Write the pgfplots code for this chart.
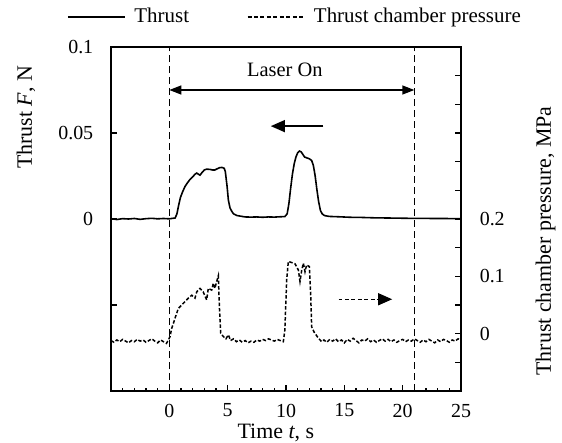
\documentclass[border=0pt]{standalone}
\usepackage{fontspec}
\setmainfont{Liberation Serif}
\usepackage{pgfplots}
\pgfplotsset{compat=1.18}
\usetikzlibrary{arrows.meta}

\pgfplotsset{
  common/.style={
    width=350bp, height=344bp, scale only axis,
    xmin=-5, xmax=25, clip=false,
    tick align=inside,
    axis line style={line width=1.4pt},
    tick style={line width=1.2pt, black},
    major tick length=6pt, minor tick length=3.5pt,
  },
}

\begin{document}
\fontsize{20}{24}\selectfont
\begin{tikzpicture}
\useasboundingbox (-111bp,-52bp) rectangle (451bp,391bp);

% thrust, left axis
\begin{axis}[common,
  ymin=-0.1, ymax=0.1,
  xtick pos=bottom, ytick pos=left,
  xtick={0,5,10,15,20,25}, xticklabels={0,5,10,15,20,25},
  minor xtick={-4,-3,-2,-1,1,2,3,4,6,7,8,9,11,12,13,14,16,17,18,19,21,22,23,24},
  ytick={-0.05,0,0.05,0.1}, yticklabels={,0,0.05,0.1},
  xticklabel style={yshift=-6pt},
  yticklabel style={xshift=-11pt},
  legend style={draw=none, fill=none, inner sep=0pt,
    at={(axis description cs:-0.126,1.087)}, anchor=west,
    font=\fontsize{21}{25}\selectfont,
    nodes={inner sep=0pt},
    /tikz/every odd column/.append style={column sep=9pt},
    /tikz/every even column/.append style={column sep=58pt}},
  legend columns=2,
  legend image code/.code={\draw[#1] (0pt,0pt) -- (57pt,0pt);},
]
\addplot[black, line width=1.6pt] coordinates {
  (-5,0.0002) (-4.5,-0.0003) (-4,0.0002) (-3.5,0.0000) (-3,0.0003) (-2.5,-0.0002)
  (-2,0.0002) (-1.5,0.0004) (-1,0.0001) (-0.5,0.0003) (0,0.0001) (0.5,0.0006)
  (0.65,0.003) (0.8,0.008) (0.95,0.0125) (1.15,0.016) (1.35,0.019) (1.55,0.021)
  (1.77,0.023) (2.0,0.0245) (2.2,0.026) (2.35,0.0267) (2.5,0.026) (2.63,0.0255)
  (2.8,0.027) (3.0,0.0285) (3.2,0.029) (3.5,0.0288) (3.7,0.0285) (3.9,0.0285)
  (4.1,0.0292) (4.3,0.0298) (4.5,0.030) (4.7,0.0295) (4.8,0.0275) (4.95,0.019)
  (5.06,0.011) (5.2,0.0065) (5.35,0.0045) (5.5,0.003) (5.8,0.002) (6.5,0.0012)
  (7,0.0011) (7.5,0.0012) (8,0.001) (8.5,0.0012) (9,0.0011) (9.5,0.0013)
  (9.9,0.0014) (10.1,0.003) (10.25,0.009) (10.4,0.018) (10.55,0.026) (10.7,0.032)
  (10.85,0.036) (11.0,0.0385) (11.15,0.0395) (11.3,0.039) (11.45,0.0375) (11.6,0.036)
  (11.8,0.0355) (12.0,0.035) (12.2,0.034) (12.35,0.031) (12.5,0.025) (12.65,0.017)
  (12.8,0.010) (12.95,0.005) (13.1,0.003) (13.3,0.002) (13.7,0.0015) (14.5,0.0013)
  (15.5,0.001) (16.5,0.0009) (17.5,0.0007) (18.5,0.0006) (19.5,0.0005) (20.5,0.0004)
  (21.5,0.0004) (22.5,0.0003) (23.5,0.0003) (24.5,0.0002) (25,0.0002)
};
\addlegendentry{Thrust}
\addlegendimage{black, line width=1.4pt, dash pattern=on 4pt off 2.5pt}
\addlegendentry{Thrust chamber pressure}

% laser on / off markers
\addplot[black, line width=1.3pt, dash pattern=on 7pt off 4pt, forget plot] coordinates {(0,-0.1) (0,0.1)};
\addplot[black, line width=1.3pt, dash pattern=on 7pt off 4pt, forget plot] coordinates {(21,-0.1) (21,0.1)};
\draw[line width=1.3pt, {Triangle[length=12pt,width=9pt]}-{Triangle[length=12pt,width=9pt]}]
  (axis cs:0,0.075) -- (axis cs:21,0.075);
\node[font=\fontsize{20.5}{24}\selectfont] at (axis cs:9.9,0.087) {Laser On};
\draw[line width=1.3pt, -{Triangle[length=14pt,width=12pt]}]
  (axis cs:13.2,0.054) -- (axis cs:8.7,0.054);

\node[rotate=90, font=\fontsize{22}{26}\selectfont] at (rel axis cs:-0.243,0.795) {Thrust \textit{F}, N};
\node[anchor=base, font=\fontsize{22}{26}\selectfont] at ([yshift=-47bp]rel axis cs:0.471,0) {Time \textit{t}, s};
\end{axis}

% chamber pressure, right axis
\begin{axis}[common,
  ymin=-0.1, ymax=0.5,
  axis x line=none, axis y line*=right,
  ytick={-0.05,0,0.05,0.1,0.15,0.2,0.25,0.3,0.35,0.4,0.45},
  yticklabels={,0,,0.1,,0.2,,,,,},
  yticklabel style={xshift=12pt},
]
\addplot[black, line width=1.5pt, dash pattern=on 3.5pt off 2pt] coordinates {
  (-5,-0.012) (-4.75,-0.015) (-4.5,-0.011) (-4.25,-0.014) (-4,-0.010) (-3.75,-0.013)
  (-3.5,-0.016) (-3.25,-0.012) (-3,-0.014) (-2.75,-0.010) (-2.5,-0.013) (-2.25,-0.011)
  (-2,-0.015) (-1.75,-0.012) (-1.5,-0.009) (-1.25,-0.013) (-1,-0.016) (-0.75,-0.011)
  (-0.5,-0.014) (-0.25,-0.017) (-0.08,-0.011) (0.06,-0.005) (0.2,0.009) (0.49,0.027)
  (0.77,0.044) (1.06,0.050) (1.35,0.056) (1.63,0.062) (1.92,0.067) (2.2,0.062)
  (2.35,0.073) (2.63,0.079) (2.9,0.073) (3.2,0.059) (3.34,0.079) (3.63,0.076)
  (3.77,0.088) (3.9,0.079) (4.06,0.091) (4.2,0.101) (4.29,0.047) (4.4,0.001)
  (4.63,-0.005) (4.85,-0.009) (5.06,-0.002) (5.25,-0.012) (5.5,-0.009) (5.75,-0.014)
  (6,-0.011) (6.25,-0.015) (6.5,-0.012) (6.75,-0.016) (7,-0.013) (7.25,-0.015)
  (7.5,-0.011) (7.75,-0.013) (8,-0.010) (8.25,-0.012) (8.5,-0.009) (8.75,-0.011)
  (9,-0.013) (9.25,-0.010) (9.5,-0.012) (9.77,-0.014) (9.9,0.006) (10.06,0.094)
  (10.2,0.126) (10.49,0.124) (10.77,0.122) (11.06,0.111) (11.2,0.091) (11.35,0.111)
  (11.49,0.123) (11.63,0.108) (11.77,0.120) (12.0,0.117) (12.12,0.065) (12.2,0.012)
  (12.4,0.003) (12.78,-0.008) (13.06,-0.014) (13.25,-0.011) (13.5,-0.015) (13.75,-0.010)
  (14,-0.013) (14.25,-0.009) (14.5,-0.014) (14.75,-0.011) (15,-0.016) (15.25,-0.010)
  (15.5,-0.013) (15.75,-0.008) (16,-0.012) (16.25,-0.016) (16.5,-0.011) (16.75,-0.013)
  (17,-0.009) (17.25,-0.014) (17.5,-0.011) (17.75,-0.015) (18,-0.012) (18.25,-0.009)
  (18.5,-0.013) (18.75,-0.010) (19,-0.014) (19.25,-0.011) (19.5,-0.015) (19.75,-0.012)
  (20,-0.010) (20.25,-0.014) (20.5,-0.011) (20.75,-0.013) (21,-0.009) (21.25,-0.012)
  (21.5,-0.015) (21.75,-0.011) (22,-0.014) (22.25,-0.010) (22.5,-0.013) (22.75,-0.016)
  (23,-0.011) (23.25,-0.014) (23.5,-0.010) (23.75,-0.012) (24,-0.015) (24.25,-0.011)
  (24.5,-0.013) (24.75,-0.009) (25,-0.012)
};
\draw[line width=1.4pt, dash pattern=on 4pt off 2.5pt, -{Triangle[length=14pt,width=12pt]}]
  (axis cs:14.5,0.060) -- (axis cs:19.1,0.060);
\node[rotate=90, font=\fontsize{22}{26}\selectfont] at (rel axis cs:1.2414,0.436) {Thrust chamber pressure, MPa};
\end{axis}
\end{tikzpicture}
\end{document}
